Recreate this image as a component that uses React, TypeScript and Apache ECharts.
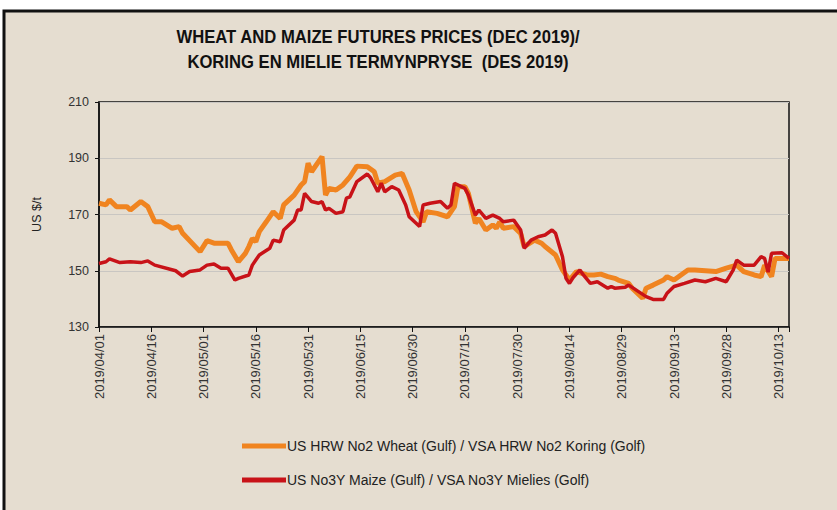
import React, { useEffect, useRef } from "react";
import * as echarts from "echarts";

const TITLE_LINE_1 = "WHEAT AND MAIZE FUTURES PRICES (DEC 2019)/";
const TITLE_LINE_2 = "KORING EN MIELIE TERMYNPRYSE  (DES 2019)";
const Y_NAME = "US $/t";
const WHEAT_NAME = "US HRW No2 Wheat (Gulf) / VSA HRW No2 Koring (Golf)";
const MAIZE_NAME = "US No3Y Maize (Gulf) / VSA No3Y Mielies (Golf)";

const START_DATE = "2019-04-01";
const END_DATE = "2019-10-16";
const Y_MIN = 130;
const Y_MAX = 210;
const Y_STEP = 20;
const X_STEP_DAYS = 15;

const wheatDates = [
  "2019-04-01", "2019-04-03", "2019-04-04", "2019-04-06", "2019-04-09", "2019-04-10", "2019-04-13", "2019-04-15",
  "2019-04-17", "2019-04-19", "2019-04-22", "2019-04-24", "2019-04-25", "2019-04-30", "2019-05-02", "2019-05-04",
  "2019-05-08", "2019-05-09", "2019-05-11", "2019-05-13", "2019-05-14", "2019-05-15", "2019-05-16", "2019-05-17",
  "2019-05-19", "2019-05-21", "2019-05-23", "2019-05-24", "2019-05-27", "2019-05-29", "2019-05-30", "2019-05-31",
  "2019-06-01", "2019-06-04", "2019-06-05", "2019-06-06", "2019-06-08", "2019-06-10", "2019-06-12", "2019-06-14",
  "2019-06-17", "2019-06-19", "2019-06-20", "2019-06-22", "2019-06-25", "2019-06-27", "2019-06-29", "2019-07-01",
  "2019-07-03", "2019-07-04", "2019-07-07", "2019-07-10", "2019-07-12", "2019-07-13", "2019-07-15", "2019-07-16",
  "2019-07-18", "2019-07-19", "2019-07-21", "2019-07-23", "2019-07-24", "2019-07-25", "2019-07-26", "2019-07-29",
  "2019-07-31", "2019-08-01", "2019-08-04", "2019-08-06", "2019-08-07", "2019-08-10", "2019-08-12", "2019-08-14",
  "2019-08-16", "2019-08-19", "2019-08-21", "2019-08-23", "2019-08-25", "2019-08-27", "2019-08-28", "2019-08-31",
  "2019-09-01", "2019-09-04", "2019-09-05", "2019-09-07", "2019-09-10", "2019-09-11", "2019-09-13", "2019-09-15",
  "2019-09-17", "2019-09-19", "2019-09-22", "2019-09-25", "2019-09-28", "2019-10-01", "2019-10-03", "2019-10-06",
  "2019-10-08", "2019-10-09", "2019-10-11", "2019-10-12", "2019-10-14", "2019-10-16",
];
const wheatValues = [
  174.0, 173.4, 175.2, 172.8, 172.8, 171.6, 174.6, 172.8,
  167.4, 167.4, 165.1, 165.7, 163.3, 156.8, 160.7, 159.8,
  159.8, 157.4, 153.2, 156.2, 158.6, 161.5, 160.3, 163.9,
  167.4, 171.0, 168.6, 173.4, 176.9, 180.5, 181.7, 188.2,
  185.2, 190.6, 176.9, 179.3, 178.7, 180.5, 183.4, 187.2,
  187.0, 185.2, 181.1, 181.7, 184.0, 184.6, 178.7, 171.0,
  167.4, 171.0, 170.4, 169.2, 172.8, 179.9, 179.9, 177.5,
  166.9, 168.6, 164.5, 166.3, 165.1, 167.4, 165.1, 165.7,
  163.3, 158.6, 160.9, 159.8, 158.6, 155.6, 150.3, 146.7,
  149.7, 148.5, 148.5, 148.8, 147.9, 147.3, 146.7, 145.5,
  143.8, 140.2, 143.8, 144.9, 146.7, 147.9, 146.7, 148.5,
  150.3, 150.3, 150.0, 149.7, 150.9, 152.0, 149.7, 148.5,
  147.9, 152.0, 147.9, 154.4, 154.4, 154.4,
];

const maizeDates = [
  "2019-04-01", "2019-04-03", "2019-04-04", "2019-04-07", "2019-04-10", "2019-04-13", "2019-04-15", "2019-04-17",
  "2019-04-23", "2019-04-25", "2019-04-27", "2019-04-30", "2019-05-02", "2019-05-04", "2019-05-06", "2019-05-08",
  "2019-05-10", "2019-05-11", "2019-05-14", "2019-05-15", "2019-05-16", "2019-05-17", "2019-05-20", "2019-05-21",
  "2019-05-23", "2019-05-24", "2019-05-27", "2019-05-28", "2019-05-29", "2019-05-30", "2019-06-01", "2019-06-03",
  "2019-06-04", "2019-06-05", "2019-06-06", "2019-06-08", "2019-06-10", "2019-06-11", "2019-06-12", "2019-06-14",
  "2019-06-17", "2019-06-18", "2019-06-20", "2019-06-21", "2019-06-22", "2019-06-24", "2019-06-26", "2019-06-28",
  "2019-06-29", "2019-07-02", "2019-07-03", "2019-07-05", "2019-07-08", "2019-07-10", "2019-07-11", "2019-07-12",
  "2019-07-15", "2019-07-16", "2019-07-18", "2019-07-19", "2019-07-21", "2019-07-23", "2019-07-25", "2019-07-26",
  "2019-07-29", "2019-07-31", "2019-08-01", "2019-08-03", "2019-08-05", "2019-08-07", "2019-08-09", "2019-08-10",
  "2019-08-12", "2019-08-13", "2019-08-14", "2019-08-15", "2019-08-17", "2019-08-18", "2019-08-20", "2019-08-22",
  "2019-08-25", "2019-08-26", "2019-08-27", "2019-08-30", "2019-08-31", "2019-09-05", "2019-09-07", "2019-09-10",
  "2019-09-11", "2019-09-13", "2019-09-16", "2019-09-19", "2019-09-22", "2019-09-25", "2019-09-28", "2019-09-30",
  "2019-10-01", "2019-10-03", "2019-10-06", "2019-10-08", "2019-10-09", "2019-10-10", "2019-10-11", "2019-10-14",
  "2019-10-16",
];
const maizeValues = [
  152.6, 153.2, 154.2, 152.9, 153.2, 152.9, 153.5, 152.0,
  150.0, 148.1, 149.7, 150.3, 152.0, 152.4, 150.9, 150.9,
  146.7, 147.3, 148.5, 152.0, 153.8, 155.6, 158.0, 160.9,
  160.3, 164.5, 168.0, 171.6, 171.6, 177.5, 174.6, 174.0,
  174.6, 171.6, 172.2, 170.4, 171.0, 175.8, 176.3, 181.7,
  184.4, 182.9, 178.1, 181.1, 178.1, 179.9, 178.7, 173.4,
  169.2, 165.7, 173.4, 174.0, 174.6, 172.2, 173.4, 181.1,
  179.3, 176.9, 169.8, 171.6, 168.6, 169.8, 168.6, 167.4,
  168.0, 164.5, 158.0, 160.9, 162.1, 162.7, 164.5, 163.3,
  155.0, 147.3, 145.5, 147.5, 150.3, 148.5, 145.5, 146.1,
  143.8, 144.4, 143.8, 144.1, 144.9, 140.8, 139.8, 139.8,
  142.0, 144.4, 145.5, 146.7, 146.1, 147.3, 146.1, 150.3,
  153.8, 152.0, 152.0, 155.0, 154.4, 149.5, 156.2, 156.4,
  154.4,
];

const DAY_MS = 86400000;
function toUtc(s: string): number {
  const [y, m, d] = s.split("-").map(Number);
  return Date.UTC(y, m - 1, d);
}
const BASE = toUtc(START_DATE);
const dayOf = (s: string) => Math.round((toUtc(s) - BASE) / DAY_MS);
const pad = (n: number) => (n < 10 ? "0" + n : "" + n);
function labelOf(v: number): string {
  if (Math.round(v) % X_STEP_DAYS !== 0) return "";
  const dt = new Date(BASE + Math.round(v) * DAY_MS);
  return dt.getUTCFullYear() + "/" + pad(dt.getUTCMonth() + 1) + "/" + pad(dt.getUTCDate());
}

const FONT = "'Liberation Sans', Arial, sans-serif";
const BG = "#e5ddd0";
const ORANGE = "#f08420";
const RED = "#c81218";

export default function App() {
  const ref = useRef<HTMLDivElement>(null);
  useEffect(() => {
    if (!ref.current) return;
    const chart = echarts.init(ref.current, undefined, { renderer: "svg" });
    const wheatData = wheatDates.map((d, i) => [dayOf(d), wheatValues[i]]);
    const maizeData = maizeDates.map((d, i) => [dayOf(d), maizeValues[i]]);
    chart.setOption({
      animation: false,
      backgroundColor: "#ffffff",
      textStyle: { fontFamily: FONT },
      graphic: [
        {
          type: "rect",
          z: -10,
          silent: true,
          shape: { x: 4, y: 11, width: 900, height: 600 },
          style: { fill: BG, stroke: "#111", lineWidth: 3 },
        },
        {
          type: "text",
          x: 378,
          y: 37,
          scaleX: 0.925,
          z: 10,
          style: {
            text: TITLE_LINE_1,
            font: "bold 18px " + FONT,
            fill: "#111",
            align: "center",
            verticalAlign: "middle",
          },
        },
        {
          type: "text",
          x: 378,
          y: 62,
          scaleX: 0.925,
          z: 10,
          style: {
            text: TITLE_LINE_2,
            font: "bold 18px " + FONT,
            fill: "#111",
            align: "center",
            verticalAlign: "middle",
          },
        },
      ],
      grid: {
        left: 99,
        top: 102,
        right: 48,
        bottom: 183,
        show: true,
        borderColor: "#111",
        borderWidth: 1.5,
        backgroundColor: "transparent",
      },
      legend: {
        orient: "vertical",
        left: 237,
        top: 434,
        itemWidth: 44,
        itemHeight: 5,
        itemGap: 20,
        icon: "rect",
        textStyle: { fontFamily: FONT, fontSize: 14, color: "#222", padding: [0, 0, 0, -4] },
        data: [WHEAT_NAME, MAIZE_NAME],
      },
      xAxis: {
        type: "value",
        min: 0,
        max: dayOf(END_DATE),
        interval: X_STEP_DAYS,
        axisLine: { show: true, lineStyle: { color: "#111", width: 1.5 } },
        axisTick: { show: true, length: 5, lineStyle: { color: "#111" } },
        splitLine: { show: false },
        axisLabel: {
          rotate: 90,
          fontSize: 13,
          color: "#333",
          margin: 7,
          formatter: (v: number) => labelOf(v),
        },
      },
      yAxis: {
        type: "value",
        min: Y_MIN,
        max: Y_MAX,
        interval: Y_STEP,
        name: Y_NAME,
        nameLocation: "middle",
        nameGap: 56,
        nameTextStyle: { fontSize: 12.5, color: "#222", fontFamily: FONT },
        axisLine: { show: true, lineStyle: { color: "#111", width: 1.5 } },
        axisTick: { show: true, length: 4, lineStyle: { color: "#111" } },
        splitLine: { show: true, lineStyle: { color: "#c9c6c2", width: 1 } },
        axisLabel: { fontSize: 12.5, color: "#333", margin: 10 },
      },
      series: [
        {
          name: WHEAT_NAME,
          type: "line",
          data: wheatData,
          showSymbol: false,
          symbol: "none",
          color: ORANGE,
          lineStyle: { color: ORANGE, width: 5 },
          z: 2,
        },
        {
          name: MAIZE_NAME,
          type: "line",
          data: maizeData,
          showSymbol: false,
          symbol: "none",
          color: RED,
          lineStyle: { color: RED, width: 3.5 },
          z: 3,
        },
      ],
    });
    return () => chart.dispose();
  }, []);
  return (
    <div
      ref={ref}
      style={{ position: "fixed", left: 0, top: 0, width: 837, height: 510 }}
    />
  );
}
